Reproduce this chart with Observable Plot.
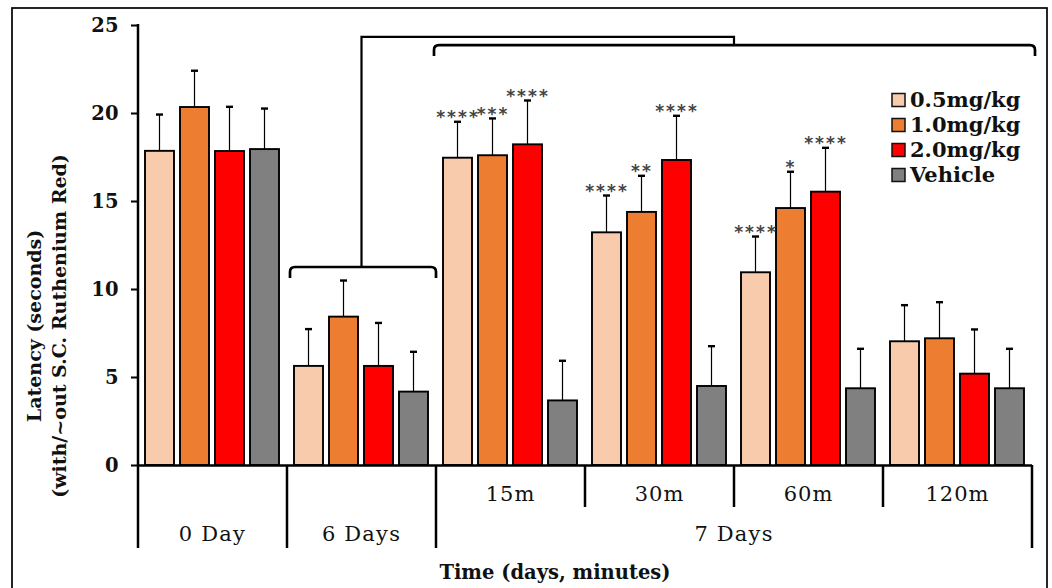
<!DOCTYPE html>
<html><head><meta charset="utf-8">
<script src="https://cdn.jsdelivr.net/npm/d3@7"></script>
<script src="https://cdn.jsdelivr.net/npm/@observablehq/plot@0.6"></script>
<style>
body{margin:0;background:#fff}
#chart svg{display:block}
</style>
</head><body><div id="chart"></div>
<script>
// ---- data ----
const groups = ["0 Day", "6 Days", "15m", "30m", "60m", "120m"];
const dayOf  = ["0 Day", "6 Days", "7 Days", "7 Days", "7 Days", "7 Days"];
const series = ["0.5mg/kg", "1.0mg/kg", "2.0mg/kg", "Vehicle"];
const colors = ["#F8CBAD", "#ED7D31", "#FF0000", "#808080"];
const yTicks = [0, 5, 10, 15, 20, 25];

const dose05  = [17.85, 5.63, 17.46, 13.22, 10.95, 7.03];
const dose10  = [20.34, 8.43, 17.60, 14.38, 14.60, 7.20];
const dose20  = [17.84, 5.63, 18.22, 17.33, 15.53, 5.19];
const vehicle = [17.95, 4.17, 3.67, 4.49, 4.36, 4.36];

const err05  = [19.94, 7.75, 19.53, 15.34, 13.01, 9.11];
const err10  = [22.43, 10.51, 19.72, 16.46, 16.69, 9.28];
const err20  = [20.38, 8.10, 20.74, 19.87, 18.05, 7.73];
const errVeh = [20.28, 6.46, 5.95, 6.78, 6.63, 6.63];

const stars05  = ["", "", "****", "****", "****", ""];
const stars10  = ["", "", "***", "**", "*", ""];
const stars20  = ["", "", "****", "****", "****", ""];
const starsVeh = ["", "", "", "", "", ""];

// bracket levels (seconds)
const bracketLow = 11.25;   // over 6 Days
const bracketHigh = 23.86;  // over 7 Days
const bracketTop = 24.32;   // connector

const values = [dose05, dose10, dose20, vehicle];
const errs = [err05, err10, err20, errVeh];
const stars = [stars05, stars10, stars20, starsVeh];

const data = [];
groups.forEach((g, i) => series.forEach((s, j) => data.push({
  group: g, series: s, value: values[j][i], err: errs[j][i], stars: stars[j][i]
})));

const W = 1052, H = 588;
const plot = Plot.plot({
  width: W, height: H,
  marginLeft: 137, marginRight: 18.6, marginTop: 25, marginBottom: 123,
  style: {background: "#fff", fontFamily: "DejaVu Serif", overflow: "visible", color: "#111"},
  fx: {domain: groups, padding: 0, axis: null},
  x: {domain: series, paddingInner: 0.16, paddingOuter: 0.196, axis: null},
  y: {domain: [0, 25], axis: null},
  color: {domain: series, range: colors},
  marks: [
    Plot.axisY({ticks: yTicks, tickSize: 7, tickPadding: 13, tickFormat: d => String(d),
      strokeWidth: 2, label: null, stroke: "#000"}),
    Plot.barY(data, {fx: "group", x: "series", y: "value", fill: "series", stroke: "#000", strokeWidth: 1.9}),
    Plot.barY(data, {fx: "group", x: "series", y1: "value", y2: "err", fill: "#000", insetLeft: 13.9, insetRight: 13.9}),
    Plot.tickY(data, {fx: "group", x: "series", y: "err", stroke: "#000", strokeWidth: 2.4, insetLeft: 11, insetRight: 11}),
    Plot.text(data.filter(d => d.stars), {fx: "group", x: "series", y: "err", text: "stars", dy: -4,
      fontSize: 17, fill: "#444", fontFamily: "DejaVu Sans"}),
    Plot.ruleY([0], {stroke: "#000", strokeWidth: 2.5})
  ]
});
document.getElementById("chart").appendChild(plot);

// ---- decorations using the plot's scales ----
const svg = d3.select(plot);
// tick labels styling
svg.selectAll("[aria-label*='y-axis'] text")
  .attr("font-size", 19.5).attr("font-weight", "bold").attr("fill", "#111");
// stars letter spacing
svg.selectAll("g[aria-label='text'] text").style("letter-spacing", "2px").attr("font-weight", "bold");

const fx = plot.scale("fx"), y = plot.scale("y");
const bw = fx.bandwidth;
const bandStart = g => fx.apply(g);
const bandEnd = g => fx.apply(g) + bw;
const y0 = y.apply(0);
const g = svg.append("g").attr("fill", "none").attr("stroke", "#000");

// outer border
svg.insert("rect", ":first-child").attr("x", 12).attr("y", 8).attr("width", 1035).attr("height", 640)
  .attr("fill", "none").attr("stroke", "#000").attr("stroke-width", 1.7);

// y axis line
g.append("line").attr("x1", bandStart(groups[0])).attr("x2", bandStart(groups[0]))
  .attr("y1", y.apply(25) - 1).attr("y2", y0 + 1).attr("stroke-width", 2.5);

// group separators
for (let i = 0; i <= groups.length; i++) {
  const x = i < groups.length ? bandStart(groups[i]) : bandEnd(groups[groups.length - 1]);
  const long = i === 0 || i === groups.length || dayOf[i] !== dayOf[i - 1];
  g.append("line").attr("x1", x).attr("x2", x).attr("y1", y0).attr("y2", y0 + (long ? 83 : 42))
    .attr("stroke-width", 2.5);
}

const t = svg.append("g").attr("fill", "#111").attr("font-family", "DejaVu Serif").attr("text-anchor", "middle");
// row 1 labels (minutes)
groups.forEach((grp, i) => {
  if (dayOf[i] !== grp) {
    t.append("text").attr("x", bandStart(grp) + bw / 2).attr("y", y0 + 36)
      .attr("font-size", 21).attr("letter-spacing", "1px").text(grp);
  }
});
// row 2 labels (days)
const days = Array.from(new Set(dayOf));
days.forEach(dd => {
  const members = groups.filter((_, i) => dayOf[i] === dd);
  const x = (bandStart(members[0]) + bandEnd(members[members.length - 1])) / 2;
  t.append("text").attr("x", x).attr("y", y0 + 76)
    .attr("font-size", 21).attr("letter-spacing", "1.2px").text(dd);
});
// x title
t.append("text").attr("x", 555).attr("y", 579).attr("font-size", 19.5).attr("font-weight", "bold")
  .text("Time (days, minutes)");
// y title
const yl = t.append("g").attr("transform", "translate(0,326)");
yl.append("text").attr("transform", "translate(34,0) rotate(-90)").attr("dy", "0.35em")
  .attr("font-size", 19).attr("font-weight", "bold").text("Latency (seconds)");
yl.append("text").attr("transform", "translate(59,0) rotate(-90)").attr("dy", "0.35em")
  .attr("font-size", 19).attr("font-weight", "bold").text("(with/~out S.C. Ruthenium Red)");

// brackets
function bracket(x0, x1, yy) {
  return `M${x0},${yy + 11}V${yy + 5}Q${x0},${yy} ${x0 + 5},${yy}H${x1 - 5}Q${x1},${yy} ${x1},${yy + 5}V${yy + 11}`;
}
const yLow = y.apply(bracketLow), yHigh = y.apply(bracketHigh), yTop = y.apply(bracketTop);
const aMid = bandStart("6 Days") + bw / 2;
const sevenStart = bandStart(groups[2]), sevenEnd = bandEnd(groups[5]);
const bMid = (sevenStart + sevenEnd) / 2;
g.append("path").attr("d", bracket(bandStart("6 Days") + 3, bandEnd("6 Days"), yLow)).attr("stroke-width", 2.7);
g.append("path").attr("d", bracket(sevenStart - 2, sevenEnd + 3, yHigh)).attr("stroke-width", 2.7);
g.append("path").attr("d", `M${aMid},${yLow}V${yTop}H${bMid}V${yHigh}`).attr("stroke-width", 2.2);

// legend
const lg = svg.append("g").attr("font-family", "DejaVu Serif").attr("text-anchor", "start");
series.forEach((s, i) => {
  const cy = 100 + i * 25;
  lg.append("rect").attr("x", 892).attr("y", cy - 6.5).attr("width", 13).attr("height", 13)
    .attr("fill", colors[i]).attr("stroke", "#111").attr("stroke-width", 1.5);
  lg.append("text").attr("x", 910).attr("y", cy + 7).attr("font-size", 21).attr("font-weight", "bold")
    .attr("fill", "#111").attr("text-anchor", "start").text(s);
});
</script>
</body></html>
